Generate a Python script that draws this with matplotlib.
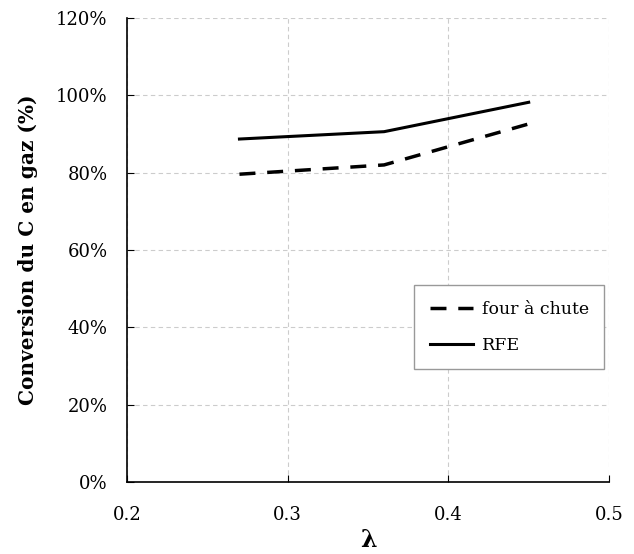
import matplotlib.pyplot as plt
from matplotlib.ticker import PercentFormatter

# lambda values and carbon conversion (%)
lam = [0.27, 0.36, 0.45]
four_chute = [79.6, 82.0, 92.6]
rfe = [88.7, 90.6, 98.2]

plt.rcParams['font.family'] = ['DejaVu Serif']

fig = plt.figure(figsize=(6.34, 5.54), dpi=100)
ax = fig.add_axes([0.2003, 0.1300, 0.7603, 0.8375])

ax.plot(lam, four_chute, color='black', lw=2.5, ls=(0, (4.6, 3.4)), label='four à chute')
ax.plot(lam, rfe, color='black', lw=2.2, label='RFE')

ax.set_xlim(0.2, 0.5)
ax.set_ylim(0, 120)
ax.set_xticks([0.2, 0.3, 0.4, 0.5])
ax.set_yticks(range(0, 121, 20))
ax.yaxis.set_major_formatter(PercentFormatter(decimals=0))
ax.tick_params(direction='in', labelsize=13, length=5, color='black')
ax.tick_params(axis='x', pad=17)
ax.tick_params(axis='y', pad=14)

ax.grid(True, color='#cccccc', ls=(0, (4, 3)), lw=0.8)
for s in ['top', 'right']:
    ax.spines[s].set_visible(False)
for s in ['left', 'bottom']:
    ax.spines[s].set_linewidth(1.2)

ax.set_xlabel('λ', fontsize=17, fontweight='bold', va='center')
ax.xaxis.set_label_coords(0.5, -0.126)
ax.set_ylabel('Conversion du C en gaz (%)', fontsize=14.5, fontweight='bold', va='center')
ax.yaxis.set_label_coords(-0.205, 0.5)

leg = ax.legend(loc='upper left', bbox_to_anchor=(414 / 634, 1 - 285 / 554),
                bbox_transform=fig.transFigure, fontsize=12.5, fancybox=False,
                framealpha=1, edgecolor='#999999', handlelength=2.5,
                handletextpad=0.5, borderpad=0.9, labelspacing=1.1,
                borderaxespad=0)
leg.get_frame().set_linewidth(1.0)

fig.savefig('out.png', dpi=100)
